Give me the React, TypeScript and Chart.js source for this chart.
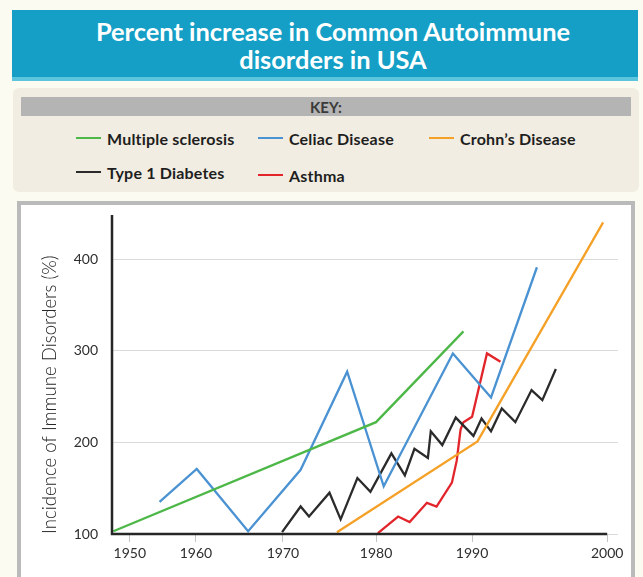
import React, { useEffect, useRef } from "react";
import { Chart, registerables, LinearScale } from "chart.js";

Chart.register(...registerables);

// ---- data (years, incidence %) ----
const msYears = [1947.5, 1980, 1989.1];
const msValues = [103, 222, 321];

const celiacYears = [1954.5, 1960.1, 1966.0, 1971.9, 1976.9, 1980.8, 1988.0, 1991.4, 1994.8];
const celiacValues = [135, 171, 103, 170, 277, 152, 297, 249, 391];

const crohnsYears = [1975.8, 1990.4, 1999.7];
const crohnsValues = [102, 201, 440];

const t1dYears = [1969.9, 1971.9, 1972.8, 1975.0, 1976.2, 1978.0, 1979.4, 1981.6, 1983.0, 1984.0, 1985.4, 1985.7, 1986.9, 1988.3, 1990.1, 1990.7, 1991.4, 1992.2, 1993.2, 1994.4, 1995.2, 1996.2];
const t1dValues = [102, 130, 119, 145, 116, 161, 146, 188, 164, 193, 183, 212, 197, 227, 207, 226, 212, 237, 222, 257, 246, 280];

const asthmaYears = [1980.2, 1982.3, 1983.5, 1985.3, 1986.3, 1987.9, 1988.4, 1988.8, 1989.1, 1990.0, 1991.1, 1992.1];
const asthmaValues = [101, 119, 113, 134, 130, 156, 180, 214, 222, 228, 297, 288];

const seriesNames = ["Multiple sclerosis", "Celiac Disease", "Crohn\u2019s Disease", "Type 1 Diabetes", "Asthma"];
const seriesColors = ["#4db848", "#4a92d2", "#f5a128", "#2b2b2b", "#e2252b"];

const yTicks = [100, 200, 300, 400];
const xTicks = [1950, 1960, 1970, 1980, 1990, 2000];

const TITLE_LINES = ["Percent increase in Common Autoimmune", "disorders in USA"];
const Y_TITLE = "Incidence of Immune Disorders (%)";

// The original artwork spaces its decade ticks unevenly; this warp reproduces it.
const WARP_YEARS = xTicks;
const WARP_UNITS = [0, 66, 153, 246, 342, 477];

function warp(v: number): number {
  const n = WARP_YEARS.length;
  let i = 0;
  if (v <= WARP_YEARS[0]) i = 0;
  else if (v >= WARP_YEARS[n - 1]) i = n - 2;
  else while (i < n - 2 && v > WARP_YEARS[i + 1]) i++;
  const t = (v - WARP_YEARS[i]) / (WARP_YEARS[i + 1] - WARP_YEARS[i]);
  return WARP_UNITS[i] + t * (WARP_UNITS[i + 1] - WARP_UNITS[i]);
}
function unwarp(u: number): number {
  const n = WARP_UNITS.length;
  let i = 0;
  if (u <= WARP_UNITS[0]) i = 0;
  else if (u >= WARP_UNITS[n - 1]) i = n - 2;
  else while (i < n - 2 && u > WARP_UNITS[i + 1]) i++;
  const t = (u - WARP_UNITS[i]) / (WARP_UNITS[i + 1] - WARP_UNITS[i]);
  return WARP_YEARS[i] + t * (WARP_YEARS[i + 1] - WARP_YEARS[i]);
}

class WarpScale extends LinearScale {
  getPixelForValue(value: any) {
    if (value === null || value === undefined) return NaN;
    const u0 = warp((this as any).min), u1 = warp((this as any).max);
    return (this as any).getPixelForDecimal((warp(value) - u0) / (u1 - u0));
  }
  getValueForPixel(pixel: number) {
    const u0 = warp((this as any).min), u1 = warp((this as any).max);
    return unwarp(u0 + (this as any).getDecimalForPixel(pixel) * (u1 - u0));
  }
}
(WarpScale as any).id = "warp";
(WarpScale as any).defaults = (LinearScale as any).defaults;
Chart.register(WarpScale as any);

const FONT = "'Lato', 'Open Sans', sans-serif";

const axesPlugin = {
  id: "axesLines",
  afterDatasetsDraw(chart: any) {
    const { ctx, chartArea } = chart;
    const xs = chart.scales.x;
    const xEnd = xs.getPixelForValue(xTicks[xTicks.length - 1]);
    ctx.save();
    ctx.strokeStyle = "#262626";
    ctx.lineWidth = 2.5;
    ctx.beginPath();
    ctx.moveTo(chartArea.left, chartArea.top);
    ctx.lineTo(chartArea.left, chartArea.bottom);
    ctx.lineTo(xEnd, chartArea.bottom);
    ctx.stroke();
    ctx.restore();
  },
};

function pts(xs: number[], ys: number[]) {
  return xs.map((x, i) => ({ x, y: ys[i] }));
}

function zeroPad(s: any) {
  s.paddingTop = 0;
  s.paddingBottom = 0;
  s.paddingLeft = 0;
  s.paddingRight = 0;
}

export default function App() {
  const ref = useRef<HTMLCanvasElement | null>(null);

  useEffect(() => {
    if (!ref.current) return;
    const datasets = [
      pts(msYears, msValues),
      pts(celiacYears, celiacValues),
      pts(crohnsYears, crohnsValues),
      pts(t1dYears, t1dValues),
      pts(asthmaYears, asthmaValues),
    ].map((data, i) => ({
      label: seriesNames[i],
      data,
      borderColor: seriesColors[i],
      backgroundColor: seriesColors[i],
      borderWidth: 2.3,
      pointRadius: 0,
      tension: 0,
      fill: false,
    }));

    const chart = new Chart(ref.current, {
      type: "line",
      data: { datasets },
      plugins: [axesPlugin],
      options: {
        animation: false,
        responsive: false,
        maintainAspectRatio: false,
        layout: { padding: { left: 0, top: 10, right: 13, bottom: 0 } },
        plugins: { legend: { display: false }, tooltip: { enabled: false }, title: { display: false } },
        scales: {
          x: {
            type: "warp" as any,
            min: 1947.3,
            max: 2000.8,
            afterFit: (s: any) => { s.height = 39; zeroPad(s); },
            afterBuildTicks: (s: any) => { s.ticks = xTicks.map((v) => ({ value: v })); },
            ticks: {
              stepSize: 10,
              autoSkip: false,
              maxRotation: 0,
              padding: 3,
              color: "#2e2e2e",
              font: { family: FONT, size: 14, weight: 400 as any },
              callback: (v: any) => String(v),
            },
            grid: { drawOnChartArea: false, drawTicks: true, tickLength: 8, color: "#c4c4c4" },
            border: { display: false },
          },
          y: {
            type: "linear",
            min: 100,
            max: 448,
            afterFit: (s: any) => { s.width = 91; zeroPad(s); },
            afterBuildTicks: (s: any) => { s.ticks = yTicks.map((v) => ({ value: v })); },
            ticks: {
              padding: 14,
              color: "#2e2e2e",
              font: { family: FONT, size: 14, weight: 400 as any },
              callback: (v: any) => String(v),
            },
            grid: { color: "#dadada", drawTicks: false, lineWidth: 1 },
            border: { display: false },
            title: {
              display: true,
              text: Y_TITLE,
              align: "start",
              color: "#262626",
              font: { family: FONT, size: 18.6, weight: 300 as any },
              padding: { top: 18, bottom: 0 },
            },
          },
        },
      },
    } as any);
    return () => chart.destroy();
  }, []);

  const legendPos = [
    { left: 76, top: 138 },
    { left: 258, top: 138 },
    { left: 429, top: 138 },
    { left: 76, top: 172 },
    { left: 258, top: 175 },
  ];

  return (
    <div style={{ position: "absolute", left: 0, top: 0, width: 643, height: 577, background: "#fbfbf2", overflow: "hidden", fontFamily: FONT }}>
      {/* title banner */}
      <div style={{ position: "absolute", left: 12, top: 10, width: 626, height: 67, background: "#169fc6" }} />
      <div style={{ position: "absolute", left: 12, top: 77, width: 626, height: 4, background: "#5cc5de" }} />
      <div style={{ position: "absolute", left: 12, top: 17, width: 642, textAlign: "center", color: "#fff", fontWeight: 700, fontSize: 25.4, lineHeight: "28px" }}>
        {TITLE_LINES.map((t, i) => (<div key={i}>{t}</div>))}
      </div>
      {/* key box */}
      <div style={{ position: "absolute", left: 13, top: 88, width: 626, height: 104, background: "#f2ede2", borderRadius: 6 }} />
      <div style={{ position: "absolute", left: 21, top: 97, width: 610, height: 19, background: "#b4b4b4", color: "#3a3a3a", fontWeight: 700, fontSize: 15, lineHeight: "20px", textAlign: "center" }}>KEY:</div>
      {seriesNames.map((name, i) => (
        <div key={name} style={{ position: "absolute", left: legendPos[i].left, top: legendPos[i].top - 10, height: 20, display: "flex", alignItems: "center", whiteSpace: "nowrap" }}>
          <div style={{ width: 25, height: 2.5, background: seriesColors[i], marginRight: 6 }} />
          <span style={{ fontWeight: 700, fontSize: 16, letterSpacing: 0.2, color: "#1e1e1e" }}>{name}</span>
        </div>
      ))}
      {/* chart panel */}
      <div style={{ position: "absolute", left: 17, top: 201, width: 610, height: 372, border: "4px solid #bababa", background: "#fff" }}>
        <canvas ref={ref} width={610} height={368} style={{ display: "block", width: 610, height: 368 }} />
      </div>
    </div>
  );
}
